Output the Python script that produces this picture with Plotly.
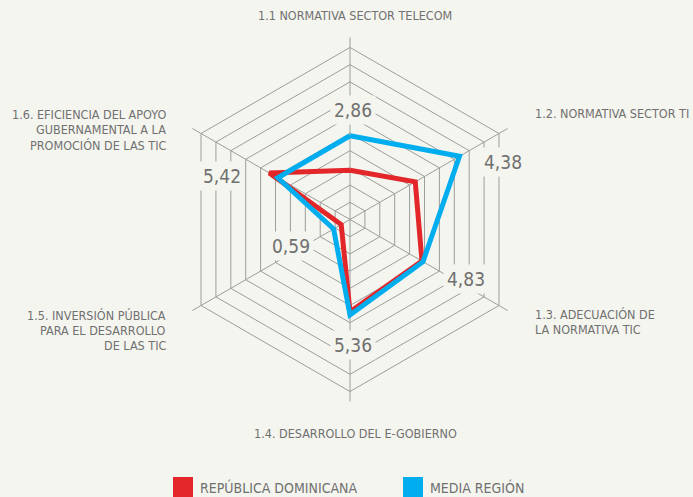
import plotly.graph_objects as go

categories = ["1.1", "1.2", "1.3", "1.4", "1.5", "1.6"]
axis_labels = [
    ["1.1 NORMATIVA SECTOR TELECOM"],
    ["1.2. NORMATIVA SECTOR TI"],
    ["1.3. ADECUACIÓN DE", "LA NORMATIVA TIC"],
    ["1.4. DESARROLLO DEL E-GOBIERNO"],
    ["1.5. INVERSIÓN PÚBLICA", "PARA EL DESARROLLO", "DE LAS TIC"],
    ["1.6. EFICIENCIA DEL APOYO", "GUBERNAMENTAL A LA", "PROMOCIÓN DE LAS TIC"],
]
rep_dominicana = [2.86, 4.38, 4.83, 5.36, 0.59, 5.42]
media_region = [4.87, 7.35, 4.9, 5.55, 1.1, 4.85]
value_labels = ["2,86", "4,38", "4,83", "5,36", "0,59", "5,42"]
series_names = ["REPÚBLICA DOMINICANA", "MEDIA REGIÓN"]

BG = "rgb(245,245,239)"
RED = "#e2262a"
BLUE = "#00aeef"
GRID = "#9c9c9c"
TXT = "#707070"
FONT = "DejaVu Sans Condensed, DejaVu Sans, sans-serif"

W, H = 693, 497
cx, cy, R = 350, 219.5, 182.0
LINE_H = 15


def px(x):
    return x / W


def py(y):
    return 1 - y / H


fig = go.Figure()
for vals, col, name in [(rep_dominicana, RED, series_names[0]), (media_region, BLUE, series_names[1])]:
    fig.add_trace(go.Scatterpolar(
        r=vals + vals[:1], theta=categories + categories[:1],
        mode="lines", line=dict(color=col, width=5), name=name, showlegend=False,
    ))

fig.update_layout(
    width=W, height=H,
    margin=dict(l=0, r=0, t=0, b=0),
    paper_bgcolor=BG, plot_bgcolor=BG,
    font=dict(family=FONT, color=TXT),
    polar=dict(
        domain=dict(x=[px(cx - R), px(cx + R)], y=[py(cy + R), py(cy - R)]),
        bgcolor="rgba(0,0,0,0)",
        gridshape="linear",
        radialaxis=dict(range=[0, 10.58], tickvals=list(range(1, 11)), showticklabels=False,
                        ticks="", showline=False, gridcolor=GRID, gridwidth=1.2),
        angularaxis=dict(direction="clockwise", rotation=90, showticklabels=False, ticks="",
                         showline=False, gridcolor=GRID, gridwidth=1.2),
    ),
)

# axis category labels (x anchor point, y of first line, anchor)
label_pos = [
    (354.5, 16, "center"),
    (533, 113.5, "left"),
    (533, 314.5, "left"),
    (355, 433, "center"),
    (168, 315, "right"),
    (168, 115, "right"),
]
for lines, (x, y, xa) in zip(axis_labels, label_pos):
    for i, line in enumerate(lines):
        fig.add_annotation(x=px(x), y=py(y + i * LINE_H), xref="paper", yref="paper", text=line,
                           showarrow=False, xanchor=xa, yanchor="middle",
                           font=dict(size=12.5, color=TXT, family=FONT))

# value labels
val_pos = [(352.5, 110), (503, 161.5), (466, 279), (352.5, 345), (290.5, 246), (221.5, 175.5)]
for txt, (x, y) in zip(value_labels, val_pos):
    fig.add_annotation(x=px(x), y=py(y), xref="paper", yref="paper", text=txt, showarrow=False,
                       xanchor="center", yanchor="middle", bgcolor=BG, borderpad=3,
                       font=dict(size=19, color=TXT, family=FONT))

# legend
leg = [(173, RED, series_names[0]), (403, BLUE, series_names[1])]
for x0, col, name in leg:
    fig.add_shape(type="rect", xref="paper", yref="paper", x0=px(x0), x1=px(x0 + 20),
                  y0=py(497), y1=py(477), fillcolor=col, line=dict(width=0))
    fig.add_annotation(x=px(x0 + 25), y=py(487.5), xref="paper", yref="paper", text=name,
                       showarrow=False, xanchor="left", yanchor="middle",
                       font=dict(size=14, color=TXT, family=FONT))

fig.write_html(
    "out.html",
    config={"displayModeBar": False},
    post_script="document.body.style.margin='0';document.body.style.background='rgb(245,245,239)';",
)
